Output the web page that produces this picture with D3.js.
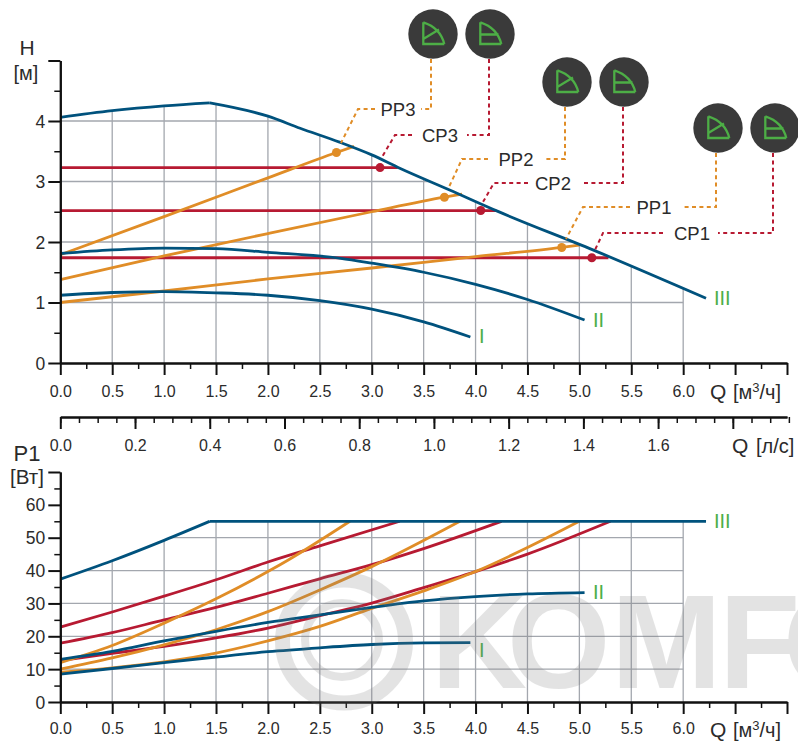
<!DOCTYPE html>
<html><head><meta charset="utf-8">
<script src="https://cdn.jsdelivr.net/npm/d3@7"></script>
<style>
html,body{margin:0;padding:0;background:#fff;overflow:hidden}
svg{display:block}
text{font-family:"Liberation Sans",Arial,sans-serif;fill:#2b2b2b}
</style></head><body>
<script>
// ---- data (Q m3/h, H m) ----
const H_III_a=[[0,4.06],[0.5,4.17],[1,4.25],[1.44,4.30]];
const H_III_b=[[1.44,4.30],[2,4.08],[2.31,3.88],[2.69,3.65],[3,3.44],[3.27,3.22],[3.75,2.86],[4.21,2.51],[5.13,1.87],[6.22,1.07]];
const H_II=[[0,1.81],[0.5,1.87],[1,1.90],[1.5,1.89],[2,1.83],[2.7,1.73],[3,1.65],[3.5,1.50],[4,1.30],[4.5,1.05],[5.05,0.71]];
const H_I=[[0,1.12],[0.5,1.165],[1,1.18],[1.5,1.16],[2,1.12],[2.5,1.03],[3,0.89],[3.5,0.68],[3.95,0.43]];
const H_PP3=[[0,1.79],[1,2.42],[2,3.06],[2.66,3.48],[2.83,3.58]];
const H_PP2=[[0,1.38],[1,1.77],[2,2.14],[3,2.50],[3.70,2.74],[3.87,2.79]];
const H_PP1=[[0,1.0],[1,1.19],[2,1.39],[3,1.57],[4,1.76],[4.83,1.91],[5.0,1.95]];
const H_CP3=[[0,3.23],[3.25,3.23]];
const H_CP2=[[0,2.52],[4.2,2.52]];
const H_CP1=[[0,1.74],[5.28,1.74]];
const dutyPoints=[["PP3",2.66,3.48],["CP3",3.08,3.23],["PP2",3.70,2.74],["CP2",4.05,2.52],["PP1",4.83,1.91],["CP1",5.12,1.74]];
// ---- data (Q m3/h, P1 W) ----
const P_III_a=[[0,37.4],[0.5,43],[1,49.2],[1.44,55]];
const P_III_b=[[1.44,55],[6.22,55]];
const P_II=[[0,13],[0.5,15.4],[1,18.6],[1.5,21.5],[2,24.2],[2.5,26.5],[3,28.8],[3.5,30.8],[4,32.1],[4.5,32.9],[5.05,33.3]];
const P_I=[[0,8.5],[0.5,10.2],[1,12],[1.5,13.7],[2,15.3],[2.5,16.5],[3,17.5],[3.5,18],[3.95,18.1]];
const P_PP3=[[0,12],[0.5,17.2],[1,24],[1.5,31.4],[2,39.7],[2.2,43.3],[2.79,55]];
const P_PP2=[[0,10],[0.5,13.4],[1,17.4],[1.5,22],[2,27.5],[2.5,34.1],[3,41.2],[3.85,55]];
const P_PP1=[[0,9.1],[0.5,10.4],[1,12.2],[1.5,14.9],[2,18.6],[2.5,23],[3,28.5],[3.5,33.8],[4,39.7],[4.5,47],[5,55]];
const P_CP3=[[0,22.8],[0.5,27.4],[1,32.2],[1.5,37.2],[2,42.6],[2.5,47.5],[3.27,55]];
const P_CP2=[[0,17.9],[0.5,21.1],[1,25],[1.5,28.8],[2,33.1],[2.5,37.5],[3,41.8],[3.5,46.7],[4.25,55]];
const P_CP1=[[0,12.6],[0.5,14.8],[1,16.9],[1.5,19.5],[2,22.5],[2.5,26.3],[3,30.1],[3.5,34.8],[4,39.7],[4.5,45],[5.3,55]];
// ---- ticks ----
const qTicks=[0,0.5,1,1.5,2,2.5,3,3.5,4,4.5,5,5.5,6,6.5,7];
const qLabels=["0.0","0.5","1.0","1.5","2.0","2.5","3.0","3.5","4.0","4.5","5.0","5.5","6.0"];
const lsLabels=["0.0","0.2","0.4","0.6","0.8","1.0","1.2","1.4","1.6"];
const lsTicks=[0,0.2,0.4,0.6,0.8,1,1.2,1.4,1.6,1.8];
const hTicks=[0,1,2,3,4,5];
const pTicks=[0,10,20,30,40,50,60,70];
const romans=["I","II","III"];
const wordmark=["K","O","M","F","O"];

const C={blue:"#00527d",orange:"#e08d27",red:"#b71a32",green:"#4dae46",grid:"#a3a7ae",dark:"#3a3a3a"};
const W=798,H=744;
const svg=d3.select("body").append("svg").attr("width",W).attr("height",H);

const x=d3.scaleLinear().domain([0,7]).range([60.3,787]);
const yH=d3.scaleLinear().domain([0,5]).range([363,60.5]);
const yP=d3.scaleLinear().domain([0,70]).range([702,472]);

function plot(y,yMajor,top,id,curveIII,series,gridMax){
  svg.append("defs").append("clipPath").attr("id",id).append("path")
    .attr("d",d3.area().x(d=>x(d[0])).y0(y(0)).y1(d=>y(d[1])).curve(d3.curveMonotoneX)(curveIII));
  const g=svg.append("g").attr("clip-path",`url(#${id})`);
  g.selectAll("line.v").data(qTicks.filter(d=>d>0&&d<=6)).join("line")
    .attr("x1",d=>x(d)).attr("x2",d=>x(d)).attr("y1",y(0)).attr("y2",top)
    .attr("stroke",C.grid).attr("stroke-width",1.3);
  g.selectAll("line.h").data(yMajor.filter(d=>d>0&&d<=gridMax)).join("line")
    .attr("x1",x(0)).attr("x2",x(6)).attr("y1",d=>y(d)).attr("y2",d=>y(d))
    .attr("stroke",C.grid).attr("stroke-width",1.3);
  const line=d3.line().x(d=>x(d[0])).y(d=>y(d[1])).curve(d3.curveMonotoneX);
  series.forEach(s=>{
    svg.append("path").attr("d",line(s.data))
      .attr("fill","none").attr("stroke",s.color).attr("stroke-width",2.8);
  });
}

plot(yH,hTicks,60,"clipH",H_III_a.concat(H_III_b.slice(1)),[
  {data:H_CP3,color:C.red},{data:H_CP2,color:C.red},{data:H_CP1,color:C.red},
  {data:H_PP3,color:C.orange},{data:H_PP2,color:C.orange},{data:H_PP1,color:C.orange},
  {data:H_I,color:C.blue},{data:H_II,color:C.blue},{data:H_III_a,color:C.blue},{data:H_III_b,color:C.blue}
],4);
plot(yP,pTicks,470,"clipP",P_III_a.concat(P_III_b.slice(1)),[
  {data:P_CP3,color:C.red},{data:P_CP2,color:C.red},{data:P_CP1,color:C.red},
  {data:P_PP3,color:C.orange},{data:P_PP2,color:C.orange},{data:P_PP1,color:C.orange},
  {data:P_I,color:C.blue},{data:P_II,color:C.blue},{data:P_III_a,color:C.blue},{data:P_III_b,color:C.blue}
],50);

// axes
function styleAxis(g){
  g.selectAll("path.domain").attr("stroke","#111").attr("stroke-width",2);
  g.selectAll("line").attr("stroke","#111");
  g.selectAll("text").style("font-size","16px").style("font-family",'"Liberation Sans"').attr("fill","#2b2b2b");
}
function bottomAxis(scale,y0,major,minor,labels,labelBaseline){
  const a=svg.append("g").attr("transform",`translate(0,${y0})`);
  const m=a.append("g").call(d3.axisBottom(scale).tickValues(minor).tickSize(6).tickSizeOuter(0).tickFormat(""));
  m.call(styleAxis); m.selectAll("line").attr("stroke-width",1.5);
  const M=a.append("g").call(d3.axisBottom(scale).tickValues(major).tickSize(12).tickSizeOuter(0)
      .tickFormat((d,i)=>labels[i]||""));
  M.call(styleAxis); M.selectAll("line").attr("stroke-width",2);
  M.selectAll("text").attr("y",labelBaseline).attr("dy",0);
}
function leftAxis(y,major,minor,labelMax){
  const m=svg.append("g").attr("transform",`translate(${x(0)},0)`)
    .call(d3.axisLeft(y).tickValues(minor).tickSize(6).tickSizeOuter(0).tickFormat(""));
  m.call(styleAxis); m.selectAll("line").attr("stroke-width",1.5);
  const M=svg.append("g").attr("transform",`translate(${x(0)},0)`)
    .call(d3.axisLeft(y).tickValues(major).tickSize(12).tickSizeOuter(0).tickFormat(d=>d<=labelMax?d:""));
  M.call(styleAxis); M.selectAll("line").attr("stroke-width",2);
  M.selectAll("text").attr("x",-15).attr("dy",6).style("font-size","17.5px");
}
const q25=d3.range(0.25,7,0.5);
const lsMinor=d3.range(0,1.96,0.05).map(d=>+d.toFixed(2));
leftAxis(yH,hTicks,[0.5,1.5,2.5,3.5,4.5],4);
leftAxis(yP,pTicks,[5,15,25,35,45,55,65],60);
bottomAxis(x,yH(0),qTicks,q25,qLabels,34);
bottomAxis(x,yP(0),qTicks,q25,qLabels,32);
const ls=d3.scaleLinear().domain([0,1.945]).range([60.3,787]);
bottomAxis(ls,417,lsTicks,lsMinor,lsLabels,34);

// plain labels
function t(s,px,py,size,anchor,fill){
  const e=svg.append("text").attr("x",px).attr("y",py).style("font-size",size+"px").text(s);
  if(anchor)e.attr("text-anchor",anchor);
  if(fill)e.style("fill",fill);
  return e;
}
t("H",27,55,21,"middle");
t("[м]",26,80,20,"middle");
t("P1",27,461,22,"middle");
t("[Вт]",27,484,20.5,"middle");
function qUnit(px,py){
  t("Q",px,py,21);
  const e=t("[м",px+23,py,20);
  e.append("tspan").attr("dy",-7).style("font-size","13px").text("3");
  e.append("tspan").attr("dy",7).text("/ч]");
}
qUnit(710,399);
qUnit(710,737);
t("Q",732,453,21);
t("[л/с]",756,453,20);

// Roman speed labels
[[479,343,0],[593,327,1],[714,305,2],[479,657,0],[593,599,1],[714,528,2]].forEach(r=>{
  t(romans[r[2]],r[0],r[1],20,null,C.green);
});

// leaders
const leaders=[
 {n:"PP3",c:C.orange,ix:433,iy:34,lx:398,ly:109,vx:431,lEnd:421,rEnd:375,knee:358,tip:[341,143]},
 {n:"CP3",c:C.red,ix:490,iy:34,lx:440,ly:135,vx:489,lEnd:467,rEnd:412,knee:395,tip:[382,157]},
 {n:"PP2",c:C.orange,ix:567,iy:82,lx:516,ly:159,vx:565,lEnd:544,rEnd:488,knee:462,tip:[449,187]},
 {n:"CP2",c:C.red,ix:624,iy:82,lx:553,ly:183,vx:623,lEnd:584,rEnd:528,knee:494,tip:[483,202]},
 {n:"PP1",c:C.orange,ix:718,iy:128,lx:654,ly:207,vx:716,lEnd:682,rEnd:630,knee:583,tip:[566,239]},
 {n:"CP1",c:C.red,ix:775,iy:128,lx:692,ly:233,vx:773,lEnd:718,rEnd:663,knee:603,tip:[594,252]}
];
leaders.forEach(l=>{
  const p=d3.path();
  p.moveTo(l.vx,l.iy+25);p.lineTo(l.vx,l.ly);p.lineTo(l.lEnd,l.ly);
  p.moveTo(l.rEnd,l.ly);p.lineTo(l.knee,l.ly);p.lineTo(l.tip[0],l.tip[1]);
  svg.append("path").attr("d",p.toString()).attr("fill","none").attr("stroke",l.c)
    .attr("stroke-width",2).attr("stroke-dasharray","4 3.4");
  t(l.n,l.lx,l.ly+6.5,18.5,"middle");
  const g=svg.append("g").attr("transform",`translate(${l.ix},${l.iy})`);
  g.append("circle").attr("r",24.7).attr("fill",C.dark);
  const ic=d3.path();
  ic.moveTo(-9.7,-11.7);ic.lineTo(-9.7,10);ic.lineTo(11.3,10);
  ic.moveTo(-9.7,-11.7);ic.quadraticCurveTo(7.5,-6,11.3,10);
  if(l.n[0]==="P"){ic.moveTo(-9.7,5);ic.lineTo(6,-4.5);}
  else{ic.moveTo(-9.7,0.5);ic.lineTo(8.5,0.5);}
  g.append("path").attr("d",ic.toString()).attr("fill","none").attr("stroke",C.green).attr("stroke-width",2.3);
});
// duty points
svg.selectAll("circle.d").data(dutyPoints).join("circle")
  .attr("cx",d=>x(d[1])).attr("cy",d=>yH(d[2])).attr("r",4.5)
  .attr("fill",d=>d[0][0]==="P"?C.orange:C.red);

// watermark on top (semi-transparent)
const wm=svg.append("g").attr("opacity",0.2);
wm.append("circle").attr("cx",344).attr("cy",641.5).attr("r",61.5).attr("fill","none")
  .attr("stroke","#7a7a7a").attr("stroke-width",15);
wm.append("circle").attr("cx",342).attr("cy",640).attr("r",37).attr("fill","none")
  .attr("stroke","#7a7a7a").attr("stroke-width",8);
const wx=[431,507,611,719,783];
wm.selectAll("text.w").data(wordmark).join("text")
  .attr("x",(d,i)=>wx[i]).attr("y",688).text(d=>d)
  .style("font-size","133px").style("font-weight","bold").style("fill","#7a7a7a");
</script>
</body></html>
